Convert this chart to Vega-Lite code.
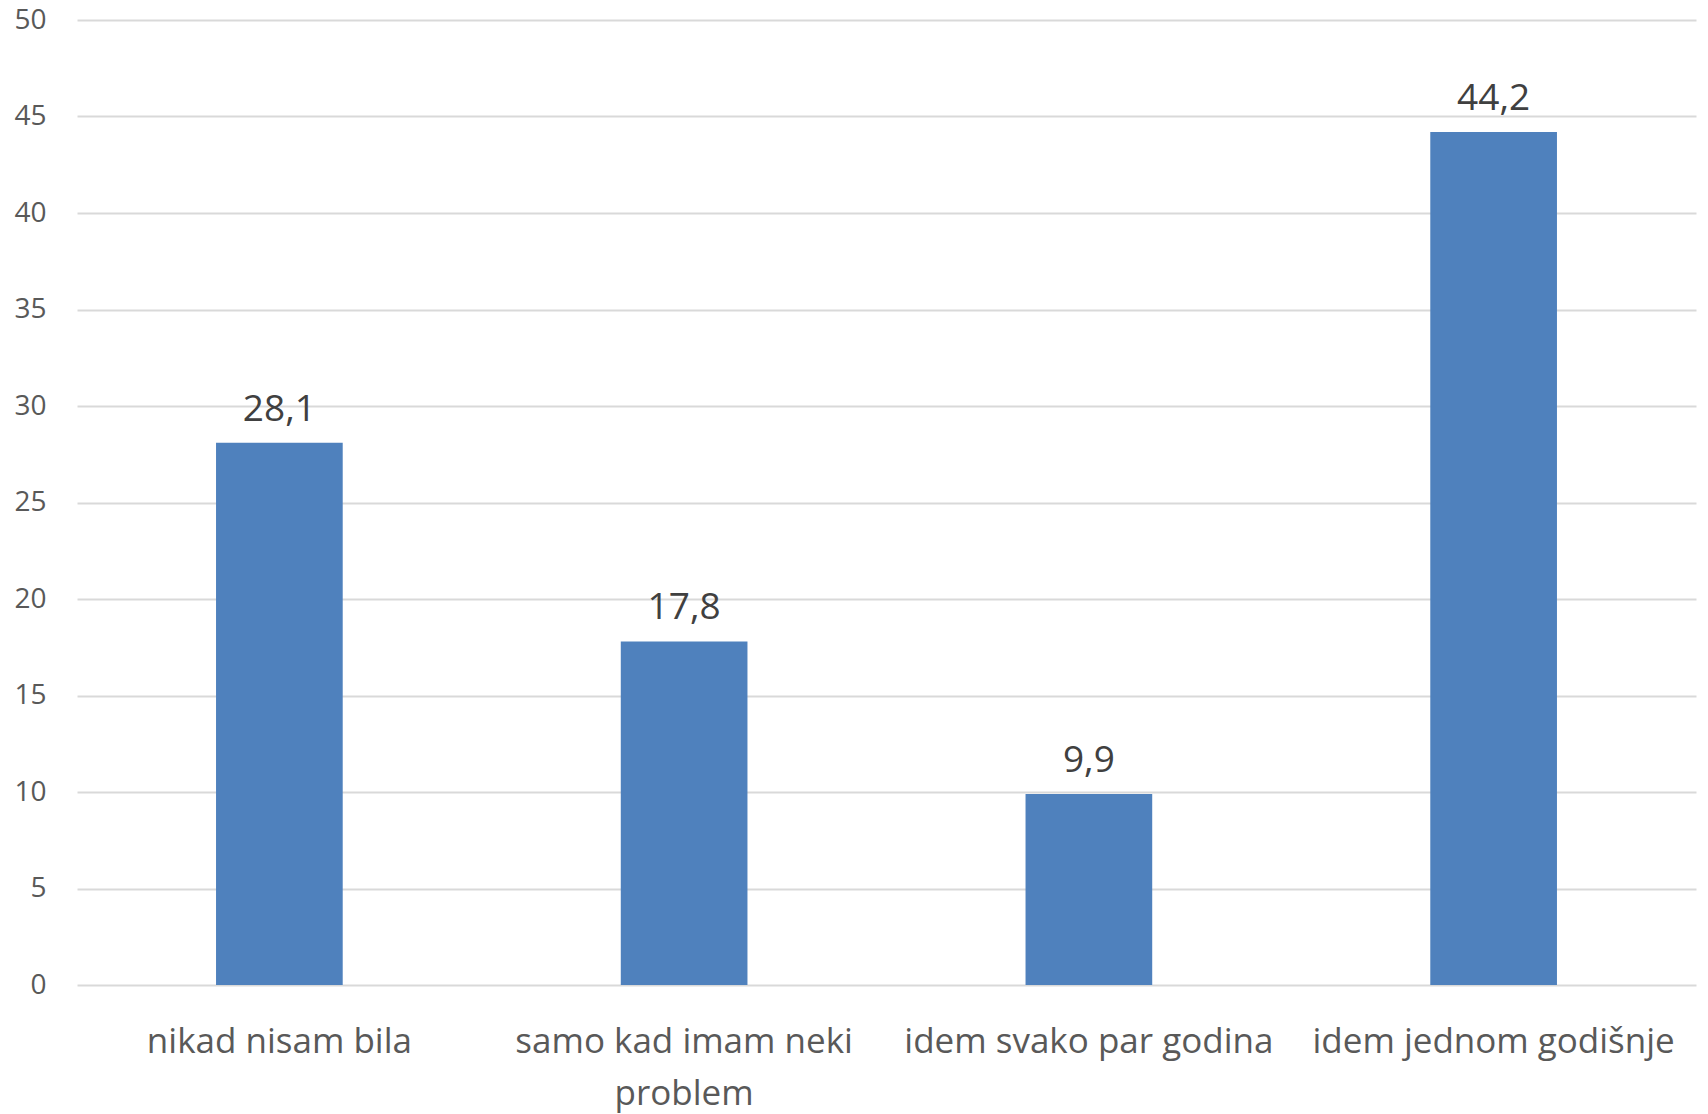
{
  "$schema": "https://vega.github.io/schema/vega-lite/v6.json",
  "autosize": {"type": "none"},
  "padding": {"left": 77, "top": 20, "right": 12, "bottom": 129},
  "width": 1619,
  "height": 965,
  "background": "white",
  "config": {
    "view": {"stroke": null},
    "locale": {"number": {"decimal": ",", "thousands": ".", "grouping": [3], "currency": ["", " €"]}},
    "font": "Open Sans"
  },
  "data": {
    "values": [
      {"kategorija": "nikad nisam bila", "postotak": 28.1},
      {"kategorija": "samo kad imam neki problem", "postotak": 17.8},
      {"kategorija": "idem svako par godina", "postotak": 9.9},
      {"kategorija": "idem jednom godišnje", "postotak": 44.2}
    ]
  },
  "encoding": {
    "x": {
      "field": "kategorija",
      "type": "nominal",
      "sort": null,
      "scale": {"paddingInner": 0.687, "paddingOuter": 0.3435},
      "axis": {
        "title": null,
        "domain": false,
        "ticks": false,
        "labelAngle": 0,
        "labelFontSize": 35,
        "labelColor": "#595959",
        "labelPadding": 39,
        "labelLineHeight": 52,
        "labelFont": "Open Sans",
        "labelLimit": 0,
        "labelExpr": "datum.label == 'samo kad imam neki problem' ? ['samo kad imam neki', 'problem'] : datum.label"
      }
    },
    "y": {
      "field": "postotak",
      "type": "quantitative",
      "scale": {"domain": [0, 50], "nice": false},
      "axis": {
        "title": null,
        "domain": false,
        "ticks": false,
        "values": [0, 5, 10, 15, 20, 25, 30, 35, 40, 45, 50],
        "format": "d",
        "labelFontSize": 28,
        "labelColor": "#595959",
        "labelPadding": 31,
        "labelFont": "Open Sans",
        "gridColor": "#D9D9D9",
        "gridWidth": 2
      }
    }
  },
  "layer": [
    {"mark": {"type": "bar", "color": "#4F81BD"}},
    {
      "mark": {"type": "text", "dy": -22, "baseline": "alphabetic", "fontSize": 37, "color": "#404040", "font": "Open Sans"},
      "encoding": {"text": {"field": "postotak", "type": "quantitative", "format": ".1f"}}
    }
  ]
}
